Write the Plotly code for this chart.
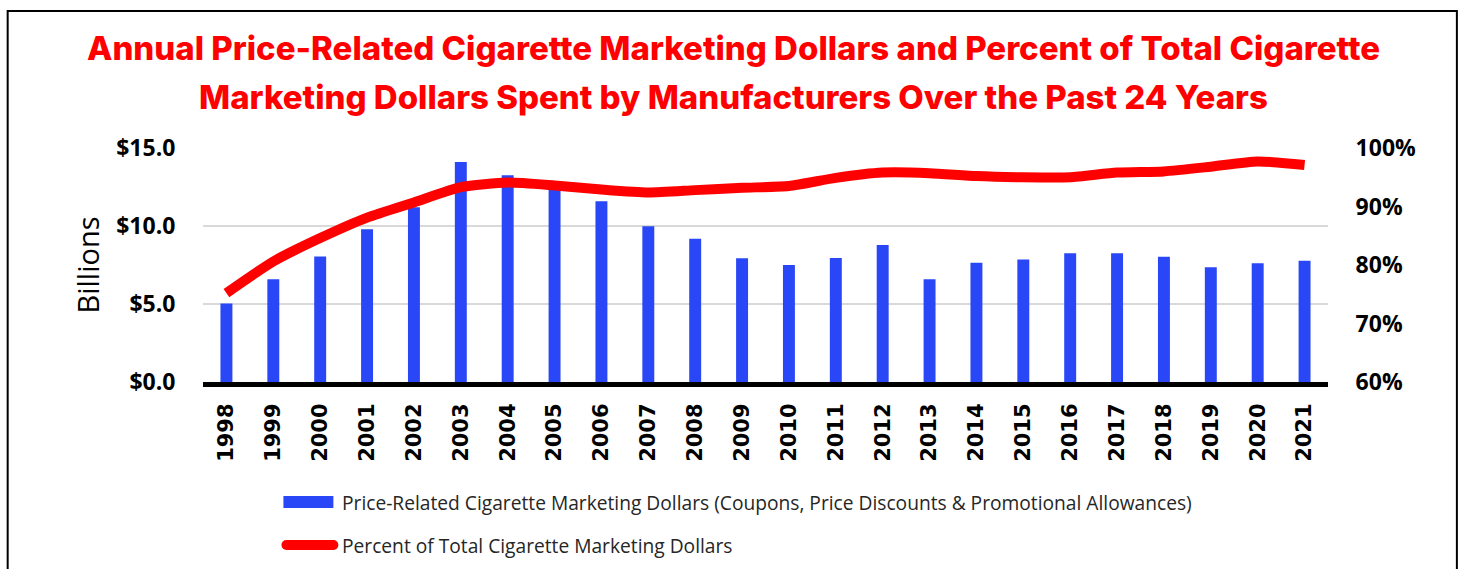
import plotly.graph_objects as go

years = [str(y) for y in range(1998, 2022)]
dollars = [5.03, 6.58, 8.05, 9.79, 11.2, 14.1, 13.25, 12.5, 11.58, 9.99, 9.18, 7.94,
           7.5, 7.95, 8.78, 6.58, 7.65, 7.86, 8.25, 8.25, 8.03, 7.35, 7.61, 7.78]
percent = [75.2, 80.6, 84.6, 88.1, 90.7, 93.3, 94.1, 93.6, 92.9, 92.4, 92.8, 93.2,
           93.5, 94.9, 95.8, 95.7, 95.2, 95.0, 95.0, 95.8, 96.0, 96.8, 97.7, 97.1]
left_ticks = [0, 5, 10, 15]
left_labels = ["$0.0", "$5.0", "$10.0", "$15.0"]
right_ticks = [60, 70, 80, 90, 100]
right_labels = ["60%", "70%", "80%", "90%", "100%"]
title_lines = ["Annual Price-Related Cigarette Marketing Dollars and Percent of Total Cigarette",
               "Marketing Dollars Spent by Manufacturers Over the Past 24 Years"]
legend_labels = ["Price-Related Cigarette Marketing Dollars (Coupons, Price Discounts & Promotional Allowances)",
                 "Percent of Total Cigarette Marketing Dollars"]

BLUE = "#2947F6"
RED = "#FF0000"

W, H = 1462, 569
L, R, T, B = 202.5, 1328.5, 148, 382
PW, PH = R - L, B - T

def px(x):
    return (x - L) / PW

def py(y):
    return (B - y) / PH

fig = go.Figure()
fig.add_trace(go.Bar(x=years, y=dollars, marker=dict(color=BLUE, line=dict(width=0)),
                     name=legend_labels[0], showlegend=False))
fig.add_trace(go.Scatter(x=years, y=percent, yaxis="y2", mode="lines",
                         line=dict(color=RED, width=10, shape="spline", smoothing=0.6),
                         name=legend_labels[1], showlegend=False))

tickfont = dict(family="Open Sans", size=23, color="black", weight=700)

fig.update_layout(
    width=W, height=H,
    margin=dict(l=L, r=W - R, t=T, b=H - B, pad=0),
    paper_bgcolor="white", plot_bgcolor="white",
    bargap=0.745,
    showlegend=False,
    xaxis=dict(type="category", tickangle=-90, showgrid=False,
               tickfont=dict(family="DejaVu Sans", size=21, color="black", weight=700),
               showline=True, linecolor="black", linewidth=5,
               ticks="outside", ticklen=8, tickcolor="rgba(0,0,0,0)"),
    yaxis=dict(range=[0, 15], tickvals=left_ticks, ticktext=left_labels,
               tickfont=tickfont, showgrid=True, gridcolor="#D9D9D9", gridwidth=1.5,
               zeroline=False, ticks="outside", ticklen=22, tickcolor="rgba(0,0,0,0)",
               title=dict(text="Billions", font=dict(family="Open Sans", size=29, color="black"),
                          standoff=8)),
    yaxis2=dict(range=[60, 100], tickvals=right_ticks, ticktext=right_labels,
                overlaying="y", side="right", showgrid=False, zeroline=False,
                tickfont=tickfont, ticks="outside", ticklen=22, tickcolor="rgba(0,0,0,0)"),
)

# title lines
for txt, yy in zip(title_lines, [48, 97]):
    fig.add_annotation(text=txt, xref="paper", yref="paper", x=px(733), y=py(yy),
                       xanchor="center", yanchor="middle", showarrow=False,
                       font=dict(family="Inter", size=33, color=RED, weight=800))

# outer border
fig.add_shape(type="rect", xref="paper", yref="paper",
              x0=px(7), x1=px(1457.5), y0=py(620), y1=py(11),
              line=dict(color="black", width=2), fillcolor="rgba(0,0,0,0)", layer="below")

# legend (custom)
fig.add_shape(type="rect", xref="paper", yref="paper",
              x0=px(283), x1=px(333), y0=py(508), y1=py(496),
              line=dict(width=0), fillcolor=BLUE)
fig.add_shape(type="line", xref="paper", yref="paper",
              x0=px(286), x1=px(333), y0=py(545), y1=py(545),
              line=dict(color=RED, width=10))
for cx in (286, 333):
    fig.add_shape(type="circle", xref="paper", yref="paper",
                  x0=px(cx - 5), x1=px(cx + 5), y0=py(550), y1=py(540),
                  line=dict(width=0), fillcolor=RED)
for txt, yy in zip(legend_labels, [502, 545]):
    fig.add_annotation(text=txt, xref="paper", yref="paper", x=px(340), y=py(yy),
                       xanchor="left", yanchor="middle", showarrow=False,
                       font=dict(family="Open Sans", size=19.2, color="#262626"))

fig.write_html("out.html")
